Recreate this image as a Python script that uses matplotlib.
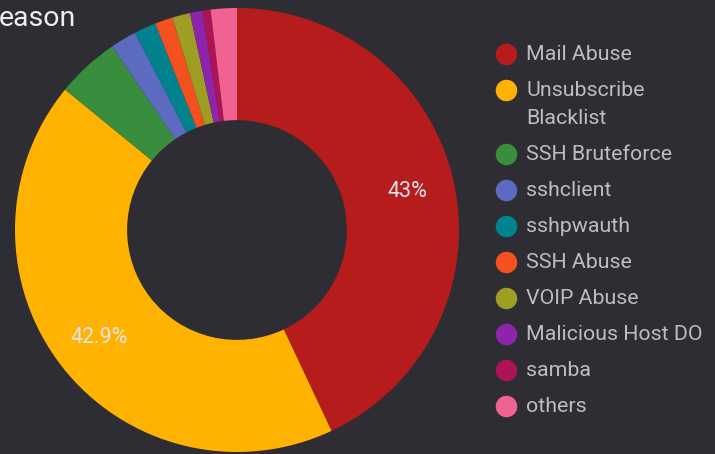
import matplotlib
matplotlib.use("Agg")
import matplotlib.pyplot as plt

plt.rcParams['font.family'] = ['Roboto', 'DejaVu Sans']

reasons = ["Mail Abuse", "Unsubscribe\nBlacklist", "SSH Bruteforce", "sshclient",
           "sshpwauth", "SSH Abuse", "VOIP Abuse", "Malicious Host DO", "samba", "others"]
shares = [43.0, 42.9, 4.6, 1.9, 1.6, 1.3, 1.3, 0.9, 0.6, 1.9]
colors = ["#b71c1c", "#ffb300", "#388e3c", "#5c6bc0", "#00838f",
          "#f4511e", "#9e9d24", "#8e24aa", "#ad1457", "#f06292"]

bg = "#2e2d33"
W, H = 715, 454


def pct_label(p):
    if p < 5:
        return ""
    return f"{p:.1f}".rstrip("0").rstrip(".") + "%"


fig = plt.figure(figsize=(W / 100, H / 100), dpi=100, facecolor=bg)

# donut
cx, cy, r = 237, 230, 222
ax = fig.add_axes([(cx - r) / W, (H - cy - r) / H, 2 * r / W, 2 * r / H])
ax.set_facecolor(bg)
wedges, texts, autotexts = ax.pie(shares, colors=colors, startangle=90, counterclock=False,
                                  radius=1, autopct=pct_label, pctdistance=0.785,
                                  wedgeprops=dict(width=0.505, linewidth=0),
                                  textprops=dict(color="#dde4ec", fontsize=15.5))
ax.set_xlim(-1, 1)
ax.set_ylim(-1, 1)
ax.axis("off")

# legend drawn on a pixel overlay
ov = fig.add_axes([0, 0, 1, 1], facecolor="none")
ov.set_xlim(0, W)
ov.set_ylim(H, 0)
ov.axis("off")
y = 54
for label, c in zip(reasons, colors):
    ov.scatter([506], [y], s=240, color=c, linewidths=0)
    for k, line in enumerate(label.split("\n")):
        ov.text(526, y + k * 28, line, color="#bdbdbd", fontsize=15.4, va="center", ha="left")
    y += 36 + 28 * label.count("\n")

fig.text(-0.002, 1 - 18 / H, "eason", color="#eeeeee", fontsize=20.5, va="center", ha="left")

fig.savefig("out.png", dpi=100, facecolor=bg)
